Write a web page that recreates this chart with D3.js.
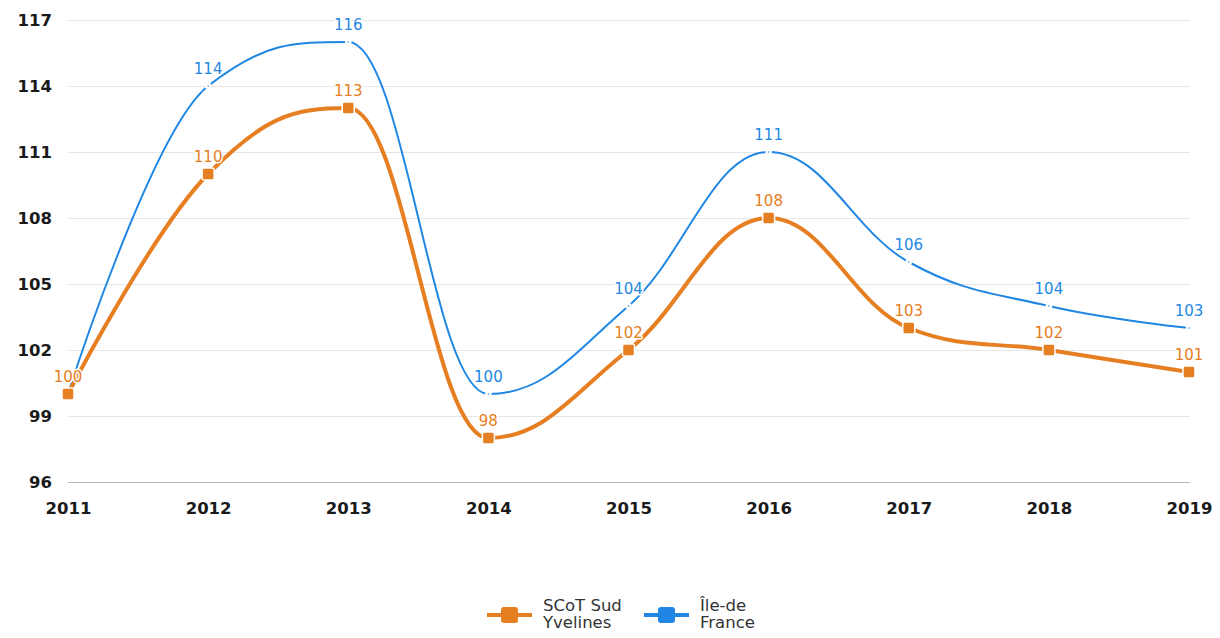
<!DOCTYPE html>
<html>
<head>
<meta charset="utf-8">
<script src="https://cdn.jsdelivr.net/npm/d3@7/dist/d3.min.js"></script>
<style>
  html, body { margin: 0; padding: 0; background: #fff; }
  svg { display: block; }
</style>
</head>
<body>
<svg id="chart" width="1220" height="638"></svg>
<script>
// Index values by year (base 100 in 2011)
const years = ["2011", "2012", "2013", "2014", "2015", "2016", "2017", "2018", "2019"];
const scotValues = [100, 110, 113, 98, 102, 108, 103, 102, 101];
const idfValues = [100, 114, 116, 100, 104, 111, 106, 104, 103];
const yTicks = [96, 99, 102, 105, 108, 111, 114, 117];
const seriesNames = [["SCoT Sud", "Yvelines"], ["Île-de", "France"]];

const ORANGE = "#e67e22";
const BLUE = "#1f87e3";

const svg = d3.select("#chart");
const plotLeft = 68, plotRight = 1189, plotTop = 20, plotBottom = 482;

const x = d3.scalePoint().domain(years).range([plotLeft, plotRight]);
const y = d3.scaleLinear().domain([96, 117]).range([plotBottom, plotTop]);

// Horizontal grid lines
svg.append("g").selectAll("line").data(yTicks).join("line")
  .attr("x1", plotLeft).attr("x2", plotRight + 1)
  .attr("y1", d => y(d) + 0.5).attr("y2", d => y(d) + 0.5)
  .attr("stroke", d => d === 96 ? "#b8b8b8" : "#e6e6e6")
  .attr("stroke-width", 1);

// Y axis labels
const yAxis = d3.axisLeft(y).tickValues(yTicks).tickSize(0).tickPadding(0);
svg.append("g").attr("transform", `translate(${plotLeft - 16},0)`).call(yAxis)
  .call(g => g.select(".domain").remove())
  .selectAll("text")
  .attr("font-family", "DejaVu Sans").attr("font-weight", "bold")
  .attr("font-size", 16.5).attr("fill", "#1a1a1a").attr("dy", "0.36em");

// X axis labels
const xAxis = d3.axisBottom(x).tickSize(0).tickPadding(0);
svg.append("g").attr("transform", `translate(0,${plotBottom + 20})`).call(xAxis)
  .call(g => g.select(".domain").remove())
  .selectAll("text")
  .attr("font-family", "DejaVu Sans").attr("font-weight", "bold")
  .attr("font-size", 16.5).attr("fill", "#1a1a1a").attr("dy", "0.71em");

// Spline path with smoothed control points (flattened at extremes)
function splinePath(pts) {
  const p = d3.path();
  const sm = 1.5, den = sm + 1;
  const ctrl = pts.map((pt, i) => {
    if (i === 0 || i === pts.length - 1) return { lx: pt[0], ly: pt[1], rx: pt[0], ry: pt[1] };
    const [px, py] = pt, [ax, ay] = pts[i - 1], [nx, ny] = pts[i + 1];
    let lx = (sm * px + ax) / den, ly = (sm * py + ay) / den;
    let rx = (sm * px + nx) / den, ry = (sm * py + ny) / den;
    if (rx !== lx) {
      const c = ((ry - ly) * (rx - px)) / (rx - lx) + py - ry;
      ly += c; ry += c;
    }
    if (ly > ay && ly > py) { ly = Math.max(ay, py); ry = 2 * py - ly; }
    else if (ly < ay && ly < py) { ly = Math.min(ay, py); ry = 2 * py - ly; }
    if (ry > ny && ry > py) { ry = Math.max(ny, py); ly = 2 * py - ry; }
    else if (ry < ny && ry < py) { ry = Math.min(ny, py); ly = 2 * py - ry; }
    return { lx, ly, rx, ry };
  });
  p.moveTo(pts[0][0], pts[0][1]);
  for (let i = 1; i < pts.length; i++) {
    p.bezierCurveTo(ctrl[i - 1].rx, ctrl[i - 1].ry, ctrl[i].lx, ctrl[i].ly, pts[i][0], pts[i][1]);
  }
  return p.toString();
}

const series = [
  { values: idfValues, color: BLUE, width: 2, marker: "dot" },
  { values: scotValues, color: ORANGE, width: 4, marker: "square" }
];

series.forEach(s => {
  const pts = s.values.map((v, i) => [x(years[i]), y(v)]);
  const g = svg.append("g");
  g.append("path").attr("d", splinePath(pts))
    .attr("fill", "none").attr("stroke", s.color)
    .attr("stroke-width", s.width).attr("stroke-linejoin", "round");
  if (s.marker === "dot") {
    g.selectAll("circle").data(pts).join("circle")
      .attr("cx", d => d[0]).attr("cy", d => d[1]).attr("r", 2)
      .attr("fill", s.color).attr("stroke", "#fff").attr("stroke-width", 2.5);
  } else {
    g.selectAll("rect").data(pts).join("rect")
      .attr("x", d => d[0] - 6).attr("y", d => d[1] - 6)
      .attr("width", 12).attr("height", 12).attr("rx", 2)
      .attr("fill", s.color).attr("stroke", "#fff").attr("stroke-width", 1.5);
  }
});

// Data labels: orange first, blue ones that collide are skipped
const placed = [];
const labelGroup = svg.append("g")
  .attr("font-family", "DejaVu Sans").attr("font-size", 15)
  .attr("text-anchor", "middle");
[{ values: scotValues, color: ORANGE }, { values: idfValues, color: BLUE }].forEach(s => {
  s.values.forEach((v, i) => {
    const cx = x(years[i]), by = y(v) - 12;
    const box = { x0: cx - 15, x1: cx + 15, y0: by - 13, y1: by + 2 };
    const hit = placed.some(b => b.x0 < box.x1 && box.x0 < b.x1 && b.y0 < box.y1 && box.y0 < b.y1);
    if (hit) return;
    placed.push(box);
    labelGroup.append("text")
      .attr("x", cx).attr("y", by).text(v)
      .attr("fill", s.color)
      .attr("stroke", "#fff").attr("stroke-width", 3)
      .attr("stroke-linejoin", "round").attr("paint-order", "stroke");
  });
});

// Legend
const legend = svg.append("g").attr("font-family", "DejaVu Sans").attr("font-size", 16.5).attr("fill", "#333");
const legendItems = [
  { name: seriesNames[0], color: ORANGE, x0: 487 },
  { name: seriesNames[1], color: BLUE, x0: 644 }
];
legendItems.forEach(it => {
  const cy = 615;
  legend.append("line").attr("x1", it.x0).attr("x2", it.x0 + 45)
    .attr("y1", cy).attr("y2", cy).attr("stroke", it.color).attr("stroke-width", 4);
  legend.append("rect").attr("x", it.x0 + 14).attr("y", cy - 8)
    .attr("width", 17).attr("height", 16).attr("rx", 3).attr("fill", it.color);
  const t = legend.append("text").attr("x", it.x0 + 56).attr("y", 611);
  it.name.forEach((line, k) => {
    t.append("tspan").attr("x", it.x0 + 56).attr("dy", k === 0 ? 0 : 17).text(line);
  });
});
</script>
</body>
</html>
